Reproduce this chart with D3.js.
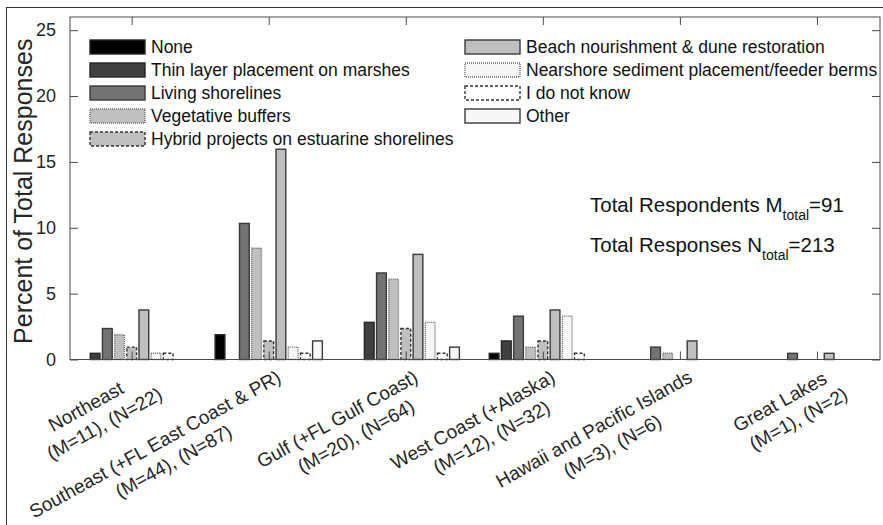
<!DOCTYPE html>
<html>
<head>
<meta charset="utf-8">
<script src="https://cdn.jsdelivr.net/npm/d3@7/dist/d3.min.js"></script>
<style>
  html, body { margin: 0; padding: 0; background: #fff; }
  svg { display: block; font-family: "Liberation Sans", Arial, sans-serif; }
</style>
</head>
<body>
<svg id="chart" width="883" height="525"></svg>
<script>
// ---------------- data ----------------
const categories = ["Northeast", "Southeast (+FL East Coast & PR)", "Gulf (+FL Gulf Coast)",
  "West Coast (+Alaska)", "Hawaii and Pacific Islands", "Great Lakes"];
const categorySub = ["(M=11), (N=22)", "(M=44), (N=87)", "(M=20), (N=64)",
  "(M=12), (N=32)", "(M=3), (N=6)", "(M=1), (N=2)"];
const seriesNames = ["None", "Thin layer placement on marshes", "Living shorelines",
  "Vegetative buffers", "Hybrid projects on estuarine shorelines",
  "Beach nourishment & dune restoration", "Nearshore sediment placement/feeder berms",
  "I do not know", "Other"];
// percent of total responses, per category
const noneVals      = [0,    1.88,  0,    0.47, 0,    0];
const thinVals      = [0.47, 0,     2.82, 1.41, 0,    0];
const livingVals    = [2.35, 10.33, 6.57, 3.29, 0.94, 0.47];
const vegetVals     = [1.88, 8.45,  6.10, 0.94, 0.47, 0];
const hybridVals    = [0.94, 1.41,  2.35, 1.41, 0,    0];
const beachVals     = [3.76, 15.96, 7.98, 3.76, 1.41, 0.47];
const nearshoreVals = [0.47, 0.94,  2.82, 3.29, 0,    0];
const idkVals       = [0.47, 0.47,  0.47, 0.47, 0,    0];
const otherVals     = [0,    1.41,  0.94, 0,    0,    0];
const yTicks = [0, 5, 10, 15, 20, 25];
const annotLines = [["Total Respondents M", "total", "=91"], ["Total Responses N", "total", "=213"]];

const seriesValues = [noneVals, thinVals, livingVals, vegetVals, hybridVals,
  beachVals, nearshoreVals, idkVals, otherVals];

// styles per series
const fills   = ["#000000", "#404040", "#737373", "#bfbfbf", "#bfbfbf", "#bfbfbf", "#f7f7f7", "#ffffff", "#f7f7f7"];
const strokes = ["#262626", "#262626", "#3a3a3a", "#6a6a6a", "#333333", "#3a3a3a", "#6a6a6a", "#333333", "#3a3a3a"];
const dashes  = [null, null, null, "1,1", "3,2", null, "1,1", "3,2", null];

// ---------------- layout ----------------
const svg = d3.select("#chart");
const L = 70, R = 880, T = 17, B = 359.5;

const x = d3.scaleLinear().domain([0.55, 6.46]).range([L, R]);
const y = d3.scaleLinear().domain([0, 26]).range([B, T]);

const nS = seriesNames.length;
const groupW = 0.8;
const slot = groupW / nS;
const barW = slot * 0.8;

// outer figure frame
svg.append("rect").attr("x", 6.5).attr("y", 7.5).attr("width", 900).attr("height", 600)
  .attr("fill", "none").attr("stroke", "#333").attr("stroke-width", 1);

// bars
seriesValues.forEach((vals, s) => {
  const g = svg.append("g");
  g.selectAll("rect").data(vals.map((v, i) => ({v, i})).filter(d => d.v > 0))
    .join("rect")
    .attr("x", d => x(d.i + 1 + (s - (nS - 1) / 2) * slot - barW / 2))
    .attr("width", d => x(barW) - x(0))
    .attr("y", d => y(d.v))
    .attr("height", d => y(0) - y(d.v))
    .attr("fill", fills[s])
    .attr("stroke", strokes[s])
    .attr("stroke-width", 1.4)
    .attr("stroke-dasharray", dashes[s]);
});

// axes box
svg.append("rect").attr("x", L).attr("y", T).attr("width", R - L).attr("height", B - T)
  .attr("fill", "none").attr("stroke", "#4a4a4a").attr("stroke-width", 1);

const tickLen = 8;
// y axis (left) with inward ticks
const yAxisL = d3.axisLeft(y).tickValues(yTicks).tickSize(-tickLen).tickPadding(14).tickFormat(d3.format("d"));
const gyl = svg.append("g").attr("transform", `translate(${L},0)`).call(yAxisL);
gyl.select(".domain").remove();
gyl.selectAll("line").attr("stroke", "#4a4a4a");
gyl.selectAll("text").attr("font-size", 18).attr("fill", "#262626")
  .attr("font-family", "Liberation Sans, Arial, sans-serif");
// y axis (right) with inward ticks
const gyr = svg.append("g").attr("transform", `translate(${R},0)`)
  .call(d3.axisRight(y).tickValues(yTicks).tickSize(-tickLen).tickFormat(""));
gyr.select(".domain").remove();
gyr.selectAll("line").attr("stroke", "#4a4a4a");
// x ticks bottom & top
const catIdx = categories.map((c, i) => i + 1);
const gxb = svg.append("g").attr("transform", `translate(0,${B})`)
  .call(d3.axisBottom(x).tickValues(catIdx).tickSize(-tickLen).tickFormat(""));
gxb.select(".domain").remove();
gxb.selectAll("line").attr("stroke", "#4a4a4a");
const gxt = svg.append("g").attr("transform", `translate(0,${T})`)
  .call(d3.axisTop(x).tickValues(catIdx).tickSize(-tickLen).tickFormat(""));
gxt.select(".domain").remove();
gxt.selectAll("line").attr("stroke", "#4a4a4a");

// x tick labels (rotated, two lines, centered within block)
const labelFont = 19, lineH = 24, rot = -29, subShift = 8;
categories.forEach((c, i) => {
  const g = svg.append("g")
    .attr("transform", `translate(${x(i + 1) + 16},${B + 26}) rotate(${rot})`);
  const t1 = g.append("text").text(c).attr("font-size", labelFont).attr("fill", "#262626")
    .attr("text-anchor", "middle").attr("y", -lineH / 2 + 7);
  const t2 = g.append("text").text(categorySub[i]).attr("font-size", labelFont).attr("fill", "#262626")
    .attr("text-anchor", "middle").attr("y", lineH / 2 + 7);
  const w = Math.max(t1.node().getComputedTextLength(), t2.node().getComputedTextLength());
  t1.attr("x", -w / 2);
  t2.attr("x", -w / 2 + subShift);
});

// y axis label
svg.append("text").attr("transform", `translate(32,${(T + B) / 2 + 3}) rotate(-90)`)
  .attr("text-anchor", "middle").attr("font-size", 25).attr("fill", "#262626")
  .text("Percent of Total Responses");

// legend
const legCols = [[0, 1, 2, 3, 4], [5, 6, 7, 8]];
const legX = [90, 465];
legCols.forEach((col, ci) => {
  col.forEach((s, ri) => {
    const cy = 47 + ri * 23;
    svg.append("rect").attr("x", legX[ci]).attr("y", cy - 7).attr("width", 55).attr("height", 14)
      .attr("fill", fills[s]).attr("stroke", strokes[s]).attr("stroke-width", 1.4)
      .attr("stroke-dasharray", dashes[s]);
    svg.append("text").attr("x", legX[ci] + 61).attr("y", cy + 6)
      .attr("font-size", 17.5).attr("fill", "#111").text(seriesNames[s]);
  });
});

// annotations
annotLines.forEach((parts, i) => {
  const t = svg.append("text").attr("x", 590).attr("y", 212 + i * 40)
    .attr("font-size", 20.5).attr("fill", "#111");
  t.append("tspan").text(parts[0]);
  t.append("tspan").text(parts[1]).attr("font-size", 14).attr("dy", 8);
  t.append("tspan").text(parts[2]).attr("dy", -8);
});
</script>
</body>
</html>
